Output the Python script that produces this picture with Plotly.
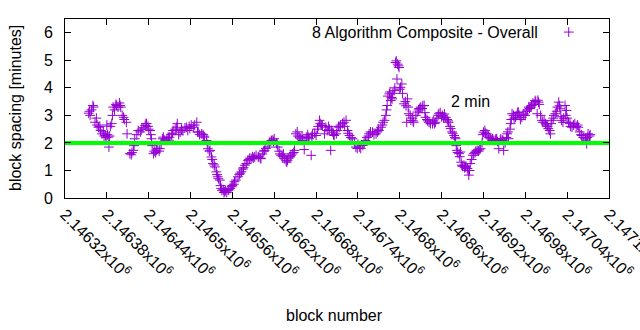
import plotly.graph_objects as go

BASE_BLOCK = 2146320

block_offset = [
    34, 35, 36, 38, 40, 41, 43, 45, 46, 48, 50, 51, 53, 55, 56, 58, 59, 60, 61, 62,
    63, 64, 65, 67, 68, 69, 71, 73, 74, 76, 78, 79, 80, 82, 84, 85, 88, 89, 93, 95,
    96, 98, 99, 100, 103, 105, 108, 110, 112, 115, 116, 117, 119, 120, 122, 123, 124, 125, 127, 128,
    130, 131, 133, 135, 136, 138, 140, 141, 143, 146, 148, 149, 150, 153, 154, 155, 158, 160, 161, 163,
    165, 167, 169, 172, 174, 176, 178, 179, 181, 184, 186, 189, 190, 191, 193, 196, 198, 199, 200, 203,
    204, 205, 207, 208, 210, 211, 212, 214, 215, 217, 218, 219, 220, 222, 223, 224, 225, 227, 228, 229,
    230, 232, 234, 235, 237, 239, 240, 242, 243, 245, 248, 250, 251, 253, 255, 256, 258, 260, 262, 264,
    265, 267, 269, 270, 272, 274, 277, 278, 280, 281, 283, 285, 286, 288, 291, 293, 294, 296, 298, 299,
    300, 303, 304, 305, 307, 308, 310, 312, 313, 315, 317, 318, 319, 321, 323, 324, 326, 328, 329, 331,
    333, 334, 336, 338, 340, 341, 343, 346, 348, 349, 350, 353, 354, 355, 358, 360, 362, 363, 365, 366,
    368, 369, 372, 374, 376, 378, 379, 381, 382, 384, 385, 386, 389, 390, 392, 393, 395, 398, 400, 401,
    403, 405, 406, 408, 410, 412, 415, 417, 419, 420, 422, 424, 427, 429, 431, 433, 435, 436, 438, 441,
    443, 446, 448, 449, 450, 453, 455, 456, 458, 460, 461, 462, 463, 465, 466, 467, 468, 469, 470, 472,
    473, 474, 475, 476, 477, 478, 479, 480, 481, 483, 484, 486, 488, 489, 490, 491, 492, 493, 495, 496,
    498, 499, 500, 503, 505, 507, 508, 510, 512, 513, 515, 516, 517, 519, 520, 522, 524, 527, 528, 530,
    531, 533, 535, 536, 538, 540, 541, 543, 544, 546, 548, 549, 550, 552, 553, 555, 556, 558, 559, 560,
    561, 562, 563, 565, 566, 567, 568, 569, 570, 572, 573, 574, 575, 577, 578, 579, 580, 581, 583, 585,
    586, 588, 589, 591, 593, 594, 596, 598, 599, 600, 602, 603, 605, 607, 608, 610, 612, 613, 615, 617,
    618, 619, 620, 622, 624, 625, 627, 628, 629, 631, 633, 634, 635, 636, 638, 639, 640, 641, 643, 644,
    646, 648, 649, 650, 652, 653, 655, 657, 658, 660, 662, 663, 665, 666, 668, 669, 671, 673, 674, 675,
    677, 678, 679, 680, 682, 684, 685, 687, 689, 690, 692, 693, 695, 696, 697, 698, 700, 701, 703, 705,
    706, 708, 709, 710, 711, 712, 714, 715, 717, 718, 719, 720, 722, 724, 725, 727, 729, 731, 733, 735,
    736, 738, 740, 741, 743, 746, 747, 748, 749, 750, 752, 753,
]

spacing_minutes = [
    3.08, 3.15, 3.0, 3.2, 3.36, 3.3, 2.75, 2.9, 2.65, 2.57, 2.6, 2.45, 2.33, 2.4, 2.25, 2.27, 2.2, 2.65, 2.3, 2.21,
    1.85, 2.25, 2.6, 2.7, 3.0, 3.3, 3.2, 3.4, 3.36, 3.3, 3.45, 3.36, 3.3, 3.0, 2.93, 2.85, 2.75, 2.33, 1.61, 1.57,
    1.65, 1.73, 1.9, 2.15, 2.3, 2.45, 2.4, 2.5, 2.55, 2.63, 2.7, 2.7, 2.6, 2.5, 2.45, 2.3, 2.15, 1.9, 1.61, 1.7,
    1.65, 1.73, 1.8, 1.7, 1.79, 2.0, 2.15, 2.21, 2.1, 2.15, 2.2, 2.1, 2.21, 2.3, 2.35, 2.45, 2.5, 2.57, 2.7, 2.3,
    2.39, 2.5, 2.45, 2.55, 2.57, 2.45, 2.6, 2.52, 2.65, 2.57, 2.65, 2.75, 2.4, 2.39, 2.3, 2.33, 2.3, 2.25, 2.21, 2.09,
    1.95, 1.79, 1.7, 1.73, 1.49, 1.4, 1.25, 1.2, 1.13, 0.95, 0.85, 0.77, 0.7, 0.65, 0.45, 0.35, 0.28, 0.3, 0.2, 0.23,
    0.27, 0.2, 0.29, 0.3, 0.35, 0.41, 0.45, 0.5, 0.59, 0.65, 0.77, 0.85, 0.9, 0.95, 1.05, 1.1, 1.19, 1.25, 1.37, 1.4,
    1.45, 1.43, 1.5, 1.45, 1.49, 1.55, 1.49, 1.5, 1.45, 1.43, 1.6, 1.7, 1.73, 1.8, 1.85, 2.0, 2.05, 2.09, 2.1, 2.05,
    2.15, 2.0, 1.95, 1.85, 1.7, 1.6, 1.55, 1.5, 1.6, 1.43, 1.35, 1.3, 1.37, 1.45, 1.5, 1.55, 1.6, 1.65, 1.73, 2.33,
    2.4, 2.25, 2.21, 2.15, 2.25, 2.09, 1.76, 2.21, 2.3, 2.2, 2.15, 1.55, 2.25, 2.33, 2.35, 2.27, 2.5, 2.6, 2.82, 2.7,
    2.65, 2.63, 2.33, 2.57, 2.45, 2.6, 2.5, 1.73, 2.45, 2.39, 2.3, 2.27, 2.33, 2.45, 2.6, 2.57, 2.65, 2.7, 2.75, 2.6,
    2.82, 2.45, 2.35, 2.27, 2.2, 2.15, 2.0, 1.85, 1.8, 1.95, 1.85, 1.8, 1.91, 2.0, 2.09, 2.2, 2.25, 2.33, 2.4, 2.39,
    2.3, 2.33, 2.4, 2.5, 2.45, 2.57, 2.65, 2.75, 2.82, 3.0, 3.2, 3.36, 3.7, 3.78, 3.85, 3.54, 3.65, 3.6, 3.8, 3.9,
    4.0, 4.92, 4.98, 4.32, 4.86, 4.8, 4.74, 3.95, 4.02, 4.14, 3.8, 3.42, 3.5, 3.35, 2.75, 3.6, 3.3, 3.06, 3.0, 2.82,
    2.9, 2.8, 2.75, 3.0, 3.12, 3.2, 3.25, 3.3, 3.25, 3.35, 3.36, 3.1, 2.93, 2.85, 2.8, 2.75, 2.7, 2.7, 2.8, 2.7,
    2.75, 2.9, 3.0, 3.06, 3.1, 2.95, 3.0, 2.9, 3.05, 2.93, 2.85, 2.8, 2.75, 2.6, 2.52, 2.4, 2.35, 2.27, 2.2, 2.15,
    1.9, 1.73, 1.65, 1.61, 1.5, 1.67, 1.3, 1.19, 1.15, 1.19, 1.1, 1.13, 1.15, 1.07, 1.0, 0.83, 1.0, 1.25, 1.4, 1.55,
    1.61, 1.65, 1.7, 1.73, 1.7, 1.75, 1.79, 2.0, 2.3, 2.39, 2.45, 2.35, 2.33, 2.25, 2.2, 2.15, 2.1, 2.15, 2.09, 2.1,
    2.15, 2.15, 2.05, 1.79, 2.1, 2.15, 2.09, 2.1, 1.73, 2.0, 2.2, 2.33, 2.4, 2.15, 2.5, 2.7, 2.85, 3.06, 3.0, 2.9,
    2.93, 3.0, 3.1, 3.12, 3.0, 2.85, 2.93, 3.0, 3.05, 3.0, 3.15, 3.2, 3.3, 3.25, 3.3, 3.36, 3.45, 3.4, 3.54, 3.5,
    3.06, 3.55, 3.48, 3.4, 3.0, 2.82, 2.75, 2.8, 2.7, 2.65, 2.6, 2.52, 2.45, 2.33, 2.7, 2.82, 2.9, 3.0, 3.06, 3.15,
    3.3, 3.48, 3.35, 3.24, 2.95, 2.82, 2.75, 2.9, 3.36, 3.0, 3.18, 2.9, 2.75, 2.7, 2.6, 2.57, 2.65, 2.7, 2.6, 2.65,
    2.57, 2.4, 2.3, 2.27, 2.2, 2.15, 2.1, 1.97, 2.2, 2.33, 2.25, 2.3,
]

x_min, x_max = 2146320, 2147100
tick_blocks = [2146320, 2146380, 2146440, 2146500, 2146560, 2146620, 2146680,
               2146740, 2146800, 2146860, 2146920, 2146980, 2147040, 2147100]
tick_mantissas = ["2.14632", "2.14638", "2.14644", "2.1465", "2.14656", "2.14662", "2.14668",
                  "2.14674", "2.1468", "2.14686", "2.14692", "2.14698", "2.14704", "2.1471"]
target_minutes = 2
series_name = "8 Algorithm Composite - Overall"

blocks = [BASE_BLOCK + o for o in block_offset]
tick_text = [m + "x10<sup>6</sup>" for m in tick_mantissas]

FONT = "Liberation Sans, Arial, sans-serif"
PURPLE = "#9400d3"
GREEN = "#00ff00"

marker_style = dict(symbol="cross-thin", size=7, color=PURPLE,
                    line=dict(width=1, color=PURPLE))

fig = go.Figure()
fig.add_trace(go.Scatter(
    x=blocks, y=spacing_minutes, mode="markers", name=series_name,
    marker=marker_style, showlegend=False,
))
fig.add_trace(go.Scatter(
    x=[x_min, x_max], y=[target_minutes, target_minutes], mode="lines",
    line=dict(color=GREEN, width=4), showlegend=False, hoverinfo="skip",
))
# legend sample (gnuplot style: text then symbol), placed on a hidden unit overlay axis
fig.add_trace(go.Scatter(
    x=[0.926], y=[0.927], mode="markers", xaxis="x2", yaxis="y2",
    marker=marker_style, showlegend=False, hoverinfo="skip",
))

axis_common = dict(showline=True, linecolor="black", linewidth=1, mirror="allticks",
                   ticks="inside", ticklen=6, tickcolor="black", tickwidth=1,
                   showgrid=False, zeroline=False, automargin=False,
                   tickfont=dict(family=FONT, size=16, color="black"))

fig.update_layout(
    width=640, height=330,
    margin=dict(l=65, r=31, t=19, b=132, autoexpand=False),
    paper_bgcolor="white", plot_bgcolor="white",
    font=dict(family=FONT, size=16, color="black"),
    xaxis=dict(range=[x_min, x_max + 0.01], tickmode="array", tickvals=tick_blocks,
               ticktext=tick_text, tickangle=45, ticklabeloverflow="allow",
               **axis_common),
    yaxis=dict(range=[0, 6.5], tickmode="array", tickvals=[0, 1, 2, 3, 4, 5, 6],
               ticklabelstandoff=8, **axis_common),
    xaxis2=dict(overlaying="x", range=[0, 1], visible=False),
    yaxis2=dict(overlaying="y", range=[0, 1], visible=False),
    annotations=[
        dict(text="block spacing [minutes]", xref="paper", yref="paper",
             x=-0.090, y=0.503, textangle=-90, showarrow=False,
             xanchor="center", yanchor="middle", font=dict(size=16)),
        dict(text="block number", xref="paper", yref="paper",
             x=0.4945, y=-0.654, showarrow=False,
             xanchor="center", yanchor="middle", font=dict(size=16)),
        dict(text=series_name, xref="paper", yref="paper",
             x=0.874, y=0.927, showarrow=False,
             xanchor="right", yanchor="middle", font=dict(size=16)),
        dict(text="2 min", xref="x", yref="y", x=2146902, y=3.5, showarrow=False,
             xanchor="center", yanchor="middle", font=dict(size=16)),
    ],
)

fig.write_html("out.html")
